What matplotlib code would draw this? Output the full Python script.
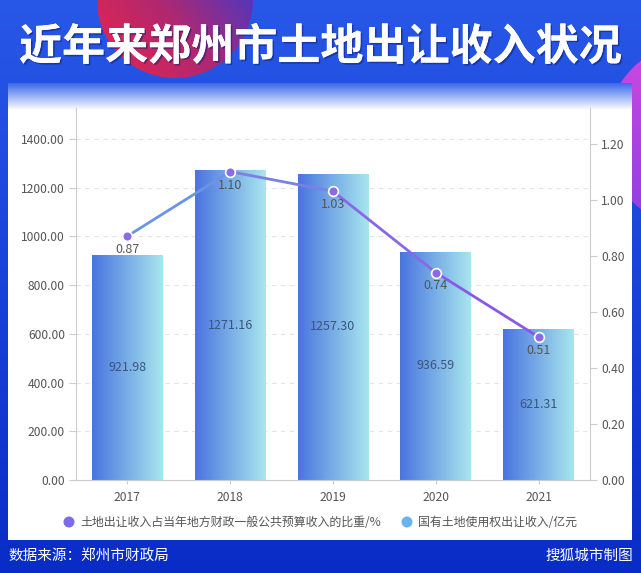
import numpy as np
import matplotlib
matplotlib.use("Agg")
import matplotlib.pyplot as plt
from matplotlib.patches import Circle, Rectangle
from matplotlib.colors import LinearSegmentedColormap, to_rgb
import matplotlib.patheffects as pe

FONT = ['Noto Sans CJK SC', 'DejaVu Sans']
plt.rcParams['font.family'] = FONT

# ---------------- data ----------------
years = ['2017', '2018', '2019', '2020', '2021']
income = [921.98, 1271.16, 1257.30, 936.59, 621.31]     # 亿元
ratio = [0.87, 1.10, 1.03, 0.74, 0.51]                   # %
left_ticks = [0, 200, 400, 600, 800, 1000, 1200, 1400]
right_ticks = [0, 0.2, 0.4, 0.6, 0.8, 1.0, 1.2]
title = '近年来郑州市土地出让收入状况'
legend_line = '土地出让收入占当年地方财政一般公共预算收入的比重/%'
legend_bar = '国有土地使用权出让收入/亿元'
source = '数据来源：郑州市财政局'
credit = '搜狐城市制图'

W, H = 641, 573
fig = plt.figure(figsize=(W / 100, H / 100), dpi=100)

# ---------------- background ----------------
bg = fig.add_axes([0, 0, 1, 1])
bg.set_xlim(0, W)
bg.set_ylim(H, 0)
bg.axis('off')

def vgrad(c1, c2, n=256):
    a, b = np.array(to_rgb(c1)), np.array(to_rgb(c2))
    t = np.linspace(0, 1, n)[:, None]
    return (a * (1 - t) + b * t)[:, None, :]

bg.imshow(vgrad('#2858e8', '#0a2cc6'), extent=[0, W, H, 0], aspect='auto', zorder=0)

# red/purple circle top-left
c1 = Circle((175, 0), 78, transform=bg.transData, facecolor='none', edgecolor='none')
bg.add_patch(c1)
g = np.linspace(0, 1, 200)
X, Y = np.meshgrid(g, g)
T = np.clip((X * 0.9 + (1 - Y) * 0.7) / 1.4, 0, 1)
cmap_c = LinearSegmentedColormap.from_list('c', ['#ee2448', '#b02870', '#3a3ad0'])
im = bg.imshow(T, cmap=cmap_c, extent=[96, 254, 80, -80], aspect='auto', zorder=1)
im.set_clip_path(c1)

# purple circle right
c2 = Circle((700, 135), 95, transform=bg.transData, facecolor='none', edgecolor='none')
bg.add_patch(c2)
cmap_c2 = LinearSegmentedColormap.from_list('c2', ['#d048e0', '#8a40e0'])
im2 = bg.imshow(Y, cmap=cmap_c2, extent=[600, 800, 230, 40], aspect='auto', zorder=1)
im2.set_clip_path(c2)

# white panel
bg.add_patch(Rectangle((8, 83), 624, 457, facecolor='white', edgecolor='none', zorder=2))
bg.imshow(vgrad('#3a68ea', '#ffffff'), extent=[8, 632, 110, 83], aspect='auto', zorder=3)

# title
bg.text(320, 47, title, color='white', fontsize=31, fontweight='bold', ha='center', va='center',
        family=FONT, zorder=5,
        path_effects=[pe.withSimplePatchShadow(offset=(1.2, -1.2), shadow_rgbFace='#0a1a70', alpha=0.5),
                      pe.Normal()])

# footer
bg.text(8, 556, source, color='white', fontsize=10.5, ha='left', va='center', family=FONT, zorder=5)
bg.text(633, 556, credit, color='white', fontsize=10.5, ha='right', va='center', family=FONT, zorder=5)

# legend
bg.add_patch(Circle((69, 522), 5.5, facecolor='#7a6cec', edgecolor='none', zorder=5))
bg.text(80, 522, legend_line, color='#555555', fontsize=8.6, ha='left', va='center', family=FONT, zorder=5)
bg.add_patch(Circle((407, 522), 5.5, facecolor='#6ab4ee', edgecolor='none', zorder=5))
bg.text(418, 522, legend_bar, color='#555555', fontsize=8.6, ha='left', va='center', family=FONT, zorder=5)

# ---------------- main axes ----------------
L, R, B, T_ = 76, 590, 480, 108
ax = fig.add_axes([L / W, (H - B) / H, (R - L) / W, (B - T_) / H])
ax.set_facecolor('none')
ax.patch.set_alpha(0)
x = np.arange(len(years))
ax.set_xlim(-0.5, len(years) - 0.5)
ax.set_ylim(0, 1527)

bars = ax.bar(x, income, width=0.69, color='none', edgecolor='none', zorder=2)
bar_cmap = LinearSegmentedColormap.from_list('b', ['#4a74e0', '#78aee6', '#a8e6ee'])
grad = np.linspace(0, 1, 256)[None, :]
for b, v in zip(bars, income):
    x0, w = b.get_x(), b.get_width()
    imb = ax.imshow(grad, cmap=bar_cmap, extent=[x0, x0 + w, 0, v], aspect='auto', zorder=2)
    imb.set_clip_path(b)
    ax.text(x0 + w / 2, v / 2, f'{v:.2f}', ha='center', va='center', fontsize=9,
            color='#3d5578', family=FONT, zorder=4)

ax.set_yticks(left_ticks)
ax.set_yticklabels([f'{t:.2f}' for t in left_ticks])
ax.set_xticks(x)
ax.set_xticklabels(years)
ax.yaxis.grid(True, linestyle=(0, (4, 4)), color='#e4e4e4', linewidth=0.8)
ax.set_axisbelow(True)
for s in ['top', 'right']:
    ax.spines[s].set_visible(False)
for s in ['left', 'bottom']:
    ax.spines[s].set_color('#cccccc')
ax.tick_params(axis='y', colors='#cccccc', labelcolor='#555555', labelsize=8.7, length=5, pad=3)
ax.tick_params(axis='x', colors='#cccccc', length=3, labelcolor='#555555', labelsize=8.7, pad=5)

ax2 = ax.twinx()
ax2.set_ylim(0, 1.327)
ax2.set_xlim(-0.5, len(years) - 0.5)
seg_colors = ['#6c94e4', '#7a80e4', '#8868e6', '#8a58e8']
for i in range(len(years) - 1):
    ax2.plot(x[i:i + 2], ratio[i:i + 2], color=seg_colors[i], linewidth=2, zorder=3,
             solid_capstyle='round')
ax2.plot(x, ratio, linestyle='none', marker='o', markersize=7, markerfacecolor='#8a6ae6',
         markeredgecolor='white', markeredgewidth=1.2, zorder=5)
for xi, v in zip(x, ratio):
    ax2.annotate(f'{v:.2f}', (xi, v), xytext=(0, -5), textcoords='offset points',
                 ha='center', va='top', fontsize=9, color='#555555', family=FONT, zorder=6)
ax2.set_yticks(right_ticks)
ax2.set_yticklabels([f'{t:.2f}' for t in right_ticks])
for s in ['top', 'left', 'bottom']:
    ax2.spines[s].set_visible(False)
ax2.spines['right'].set_color('#cccccc')
ax2.tick_params(axis='y', colors='#cccccc', labelcolor='#555555', labelsize=8.7, length=5, pad=3)

fig.savefig('out.png', dpi=100)
